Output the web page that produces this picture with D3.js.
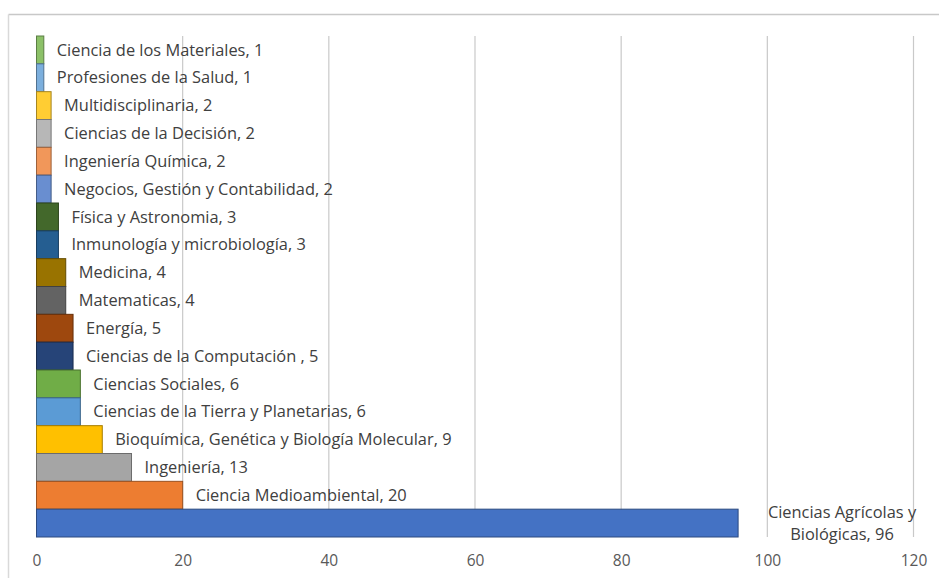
<!DOCTYPE html>
<html>
<head>
<meta charset="utf-8">
<script src="https://cdn.jsdelivr.net/npm/d3@7/dist/d3.min.js"></script>
<style>
  html, body { margin: 0; padding: 0; background: #fff; }
  svg { display: block; }
  text { font-family: "Open Sans", Lato, sans-serif; }
</style>
</head>
<body>
<svg id="chart" width="939" height="578"></svg>
<script>
// Subject areas, listed top to bottom
const categories = [
  "Ciencia de los Materiales",
  "Profesiones de la Salud",
  "Multidisciplinaria",
  "Ciencias de la Decisión",
  "Ingeniería Química",
  "Negocios, Gestión y Contabilidad",
  "Física y Astronomia",
  "Inmunología y microbiología",
  "Medicina",
  "Matematicas",
  "Energía",
  "Ciencias de la Computación ",
  "Ciencias Sociales",
  "Ciencias de la Tierra y Planetarias",
  "Bioquímica, Genética y Biología Molecular",
  "Ingeniería",
  "Ciencia Medioambiental",
  "Ciencias Agrícolas y Biológicas"
];
const counts = [1, 1, 2, 2, 2, 2, 3, 3, 4, 4, 5, 5, 6, 6, 9, 13, 20, 96];
const barColors = [
  "#8cc168", "#7cafdd", "#ffcd33", "#b7b7b7", "#f1975a", "#698ed0",
  "#43682b", "#255e91", "#997300", "#636363", "#9e480e", "#264478",
  "#70ad47", "#5b9bd5", "#ffc000", "#a5a5a5", "#ed7d31", "#4472c4"
];
const xTicks = [0, 20, 40, 60, 80, 100, 120];

const svg = d3.select("#chart");

// Chart frame (top and left edges)
svg.append("line").attr("x1", 8.5).attr("x2", 939).attr("y1", 14.5).attr("y2", 14.5)
  .attr("stroke", "#c8c8c8").attr("stroke-width", 1.5);
svg.append("line").attr("x1", 8.5).attr("x2", 8.5).attr("y1", 14.5).attr("y2", 578)
  .attr("stroke", "#d9d9d9").attr("stroke-width", 1.5);

const x = d3.scaleLinear().domain([0, 120]).range([36.5, 913.5]);
const y = d3.scaleBand().domain(categories).range([36, 537]).padding(0);

// Vertical gridlines
svg.append("g")
  .selectAll("line")
  .data(xTicks.slice(1))
  .join("line")
  .attr("x1", d => x(d)).attr("x2", d => x(d))
  .attr("y1", 36).attr("y2", 537)
  .attr("stroke", "#c9c9c9").attr("stroke-width", 1.2);

// Bars
svg.append("g")
  .selectAll("rect")
  .data(categories)
  .join("rect")
  .attr("x", x(0))
  .attr("y", d => y(d))
  .attr("width", (d, i) => x(counts[i]) - x(0))
  .attr("height", y.bandwidth())
  .attr("fill", (d, i) => barColors[i])
  .attr("stroke", (d, i) => d3.color(barColors[i]).darker(1.2))
  .attr("stroke-width", 1);

// Value labels
const labelSize = 16.4;
svg.append("g")
  .selectAll("text")
  .data(categories.slice(0, -1))
  .join("text")
  .attr("x", (d, i) => x(counts[i]) + 13)
  .attr("y", d => y(d) + y.bandwidth() / 2)
  .attr("dy", "0.35em")
  .attr("font-size", labelSize)
  .attr("fill", "#404040")
  .text((d, i) => `${d}, ${counts[i]}`);

// Largest bar: label wrapped on two lines beyond the bar end
const last = categories.length - 1;
const bigLabel = svg.append("text")
  .attr("text-anchor", "middle")
  .attr("font-size", labelSize)
  .attr("fill", "#404040");
bigLabel.append("tspan").attr("x", 842).attr("y", y(categories[last]) + 9).text("Ciencias Agrícolas y");
bigLabel.append("tspan").attr("x", 842).attr("y", y(categories[last]) + 31).text(`Biológicas, ${counts[last]}`);

// X axis tick labels
const axis = svg.append("g")
  .attr("transform", "translate(0,552)")
  .call(d3.axisBottom(x).tickValues(xTicks).tickSize(0).tickPadding(3));
axis.select(".domain").remove();
axis.selectAll("text")
  .attr("font-size", 15.5)
  .attr("fill", "#595959")
  .style("font-family", "'Open Sans', Lato, sans-serif");
</script>
</body>
</html>
